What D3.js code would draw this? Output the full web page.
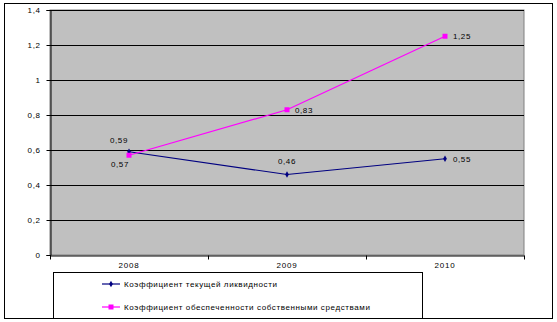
<!DOCTYPE html>
<html>
<head>
<meta charset="utf-8">
<script src="https://cdn.jsdelivr.net/npm/d3@7"></script>
<style>
  body { margin: 0; background: #fff; }
  text { font-family: "Liberation Sans", Arial, sans-serif; fill: #000; }
</style>
</head>
<body>
<div id="chart"></div>
<script>
// Data
const years = ["2008", "2009", "2010"];
const liquidity = [0.59, 0.46, 0.55];
const ownFunds = [0.57, 0.83, 1.25];
const yTicks = [0, 0.2, 0.4, 0.6, 0.8, 1, 1.2, 1.4];
const seriesNames = [
  "Коэффициент текущей ликвидности",
  "Коэффициент обеспеченности собственными средствами"
];

const width = 557, height = 322;
const plot = { left: 50, top: 10, right: 524, bottom: 255 };
const fmt = d => String(d).replace(".", ",");

const svg = d3.select("#chart").append("svg")
  .attr("width", width)
  .attr("height", height);

// outer frame
svg.append("rect")
  .attr("x", 4.5).attr("y", 3.5)
  .attr("width", 548).attr("height", 315)
  .attr("fill", "#fff").attr("stroke", "#000").attr("stroke-width", 1);

const x = d3.scaleBand().domain(years).range([plot.left, plot.right]);
const y = d3.scaleLinear().domain([0, 1.4]).range([plot.bottom, plot.top]);

// plot area
svg.append("rect")
  .attr("x", plot.left).attr("y", plot.top)
  .attr("width", plot.right - plot.left).attr("height", plot.bottom - plot.top)
  .attr("fill", "#c0c0c0").attr("stroke", "#808080");

// gridlines
svg.append("g").selectAll("line")
  .data(yTicks.filter(d => d > 0))
  .join("line")
  .attr("x1", plot.left).attr("x2", plot.right)
  .attr("y1", d => Math.round(y(d)) + 0.5).attr("y2", d => Math.round(y(d)) + 0.5)
  .attr("stroke", "#000");

// y axis
const yAxis = svg.append("g")
  .attr("transform", `translate(${plot.left + 0.5},0)`)
  .call(d3.axisLeft(y).tickValues(yTicks).tickSize(4).tickPadding(6).tickFormat(fmt));
yAxis.select(".domain").attr("stroke", "#000");
yAxis.selectAll(".tick text").style("font-size", "8px").attr("letter-spacing", "0.6px");

// x axis
const xAxis = svg.append("g")
  .attr("transform", `translate(0,${plot.bottom + 0.5})`)
  .call(d3.axisBottom(x).tickSize(0).tickPadding(7));
xAxis.select(".domain").attr("stroke", "#000");
xAxis.selectAll(".tick text").style("font-size", "8px").attr("letter-spacing", "0.8px");
xAxis.selectAll(".sep")
  .data(years.map(d => x(d)).concat([plot.right]))
  .join("line")
  .attr("class", "sep")
  .attr("x1", d => Math.round(d) + 0.5).attr("x2", d => Math.round(d) + 0.5)
  .attr("y1", 0).attr("y2", 4)
  .attr("stroke", "#000");

const cx = d => x(d) + x.bandwidth() / 2;
const line = d3.line().x((d, i) => cx(years[i])).y(d => y(d));

// series 1
svg.append("path").datum(liquidity)
  .attr("d", line).attr("fill", "none").attr("stroke", "#000080").attr("stroke-width", 1.2);
svg.append("g").selectAll("path")
  .data(liquidity).join("path")
  .attr("transform", (d, i) => `translate(${cx(years[i])},${y(d)})`)
  .attr("d", d3.symbol(d3.symbolDiamond, 12))
  .attr("fill", "#000080");

// series 2
svg.append("path").datum(ownFunds)
  .attr("d", line).attr("fill", "none").attr("stroke", "#ff00ff").attr("stroke-width", 1.2);
svg.append("g").selectAll("rect")
  .data(ownFunds).join("rect")
  .attr("x", (d, i) => cx(years[i]) - 2.5).attr("y", d => y(d) - 2.5)
  .attr("width", 5).attr("height", 5)
  .attr("fill", "#ff00ff");

// data labels
const labelStyle = sel => sel.style("font-size", "8px").attr("letter-spacing", "0.6px");
const liqOffsets = [[-19, -9], [-9, -11], [8, 3]];
const ownOffsets = [[-18, 12], [8, 3], [8, 3]];
svg.append("g").selectAll("text")
  .data(liquidity).join("text")
  .attr("x", (d, i) => cx(years[i]) + liqOffsets[i][0])
  .attr("y", (d, i) => y(d) + liqOffsets[i][1])
  .text(fmt).call(labelStyle);
svg.append("g").selectAll("text")
  .data(ownFunds).join("text")
  .attr("x", (d, i) => cx(years[i]) + ownOffsets[i][0])
  .attr("y", (d, i) => y(d) + ownOffsets[i][1])
  .text(fmt).call(labelStyle);

// legend
const legend = svg.append("g");
legend.append("rect")
  .attr("x", 53.5).attr("y", 272.5).attr("width", 369).attr("height", 46)
  .attr("fill", "#fff").attr("stroke", "#000");
const colors = ["#000080", "#ff00ff"];
const items = legend.selectAll(".item")
  .data(seriesNames).join("g")
  .attr("class", "item")
  .attr("transform", (d, i) => `translate(102,${284 + i * 23})`);
items.append("line")
  .attr("x1", 0).attr("x2", 18).attr("y1", 0).attr("y2", 0)
  .attr("stroke", (d, i) => colors[i]).attr("stroke-width", 1.2);
items.filter((d, i) => i === 0).append("path")
  .attr("transform", "translate(9,0)")
  .attr("d", d3.symbol(d3.symbolDiamond, 12)).attr("fill", colors[0]);
items.filter((d, i) => i === 1).append("rect")
  .attr("x", 6.5).attr("y", -2.5).attr("width", 5).attr("height", 5).attr("fill", colors[1]);
items.append("text")
  .attr("x", 22).attr("dy", "0.35em")
  .style("font-size", "8px").attr("letter-spacing", "0.6px")
  .text(d => d);
</script>
</body>
</html>
